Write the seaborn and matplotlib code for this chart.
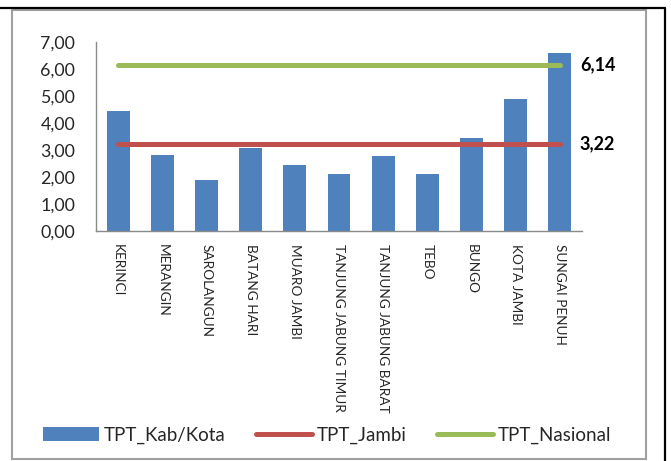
import numpy as np
import pandas as pd
import matplotlib
matplotlib.use("Agg")
import matplotlib.pyplot as plt
from matplotlib.patches import Patch, Rectangle
from matplotlib.lines import Line2D
import seaborn as sns

# ---- data ----
kabupaten = ["KERINCI", "MERANGIN", "SAROLANGUN", "BATANG HARI", "MUARO JAMBI",
             "TANJUNG JABUNG TIMUR", "TANJUNG JABUNG BARAT", "TEBO", "BUNGO",
             "KOTA JAMBI", "SUNGAI PENUH"]
tpt_kab = [4.43, 2.80, 1.89, 3.06, 2.43, 2.11, 2.76, 2.10, 3.43, 4.89, 6.58]
tpt_jambi = 3.22
tpt_nasional = 6.14
y_ticks = [0, 1, 2, 3, 4, 5, 6, 7]

BLUE = "#4F81BD"
RED = "#C0504D"
GREEN = "#9BBB59"

df = pd.DataFrame({
    "Kab": kabupaten,
    "TPT_Kab/Kota": tpt_kab,
    "TPT_Jambi": [tpt_jambi] * len(kabupaten),
    "TPT_Nasional": [tpt_nasional] * len(kabupaten),
})

sns.set_style("white")
plt.rcParams["font.family"] = ["Lato", "DejaVu Sans"]

fig = plt.figure(figsize=(6.71, 4.61), dpi=100)
ax = fig.add_axes([96 / 671, 1 - 231 / 461, (582 - 96) / 671, (231 - 41.7) / 461])

sns.barplot(data=df, x="Kab", y="TPT_Kab/Kota", color=BLUE, width=0.52,
            saturation=1, linewidth=0, ax=ax)
sns.pointplot(data=df, x="Kab", y="TPT_Jambi", color=RED, marker="",
              linewidth=3.6, ax=ax)
sns.pointplot(data=df, x="Kab", y="TPT_Nasional", color=GREEN, marker="",
              linewidth=3.6, ax=ax)
for ln in ax.lines:
    ln.set_solid_capstyle("round")

ax.set_xlim(-0.5, len(kabupaten) - 0.5)
ax.set_ylim(0, 7)
ax.set_yticks(y_ticks)
ax.set_yticklabels([f"{v:.2f}".replace(".", ",") for v in y_ticks], fontsize=12.8)
ax.set_xticks(range(len(kabupaten)))
ax.set_xticklabels(kabupaten, rotation=270, fontsize=9.8, va="top", ha="center")
ax.tick_params(axis="y", length=0, pad=15)
ax.tick_params(axis="x", length=0, pad=9)
ax.set_xlabel("")
ax.set_ylabel("")
for s in ["top", "right"]:
    ax.spines[s].set_visible(False)
for s in ["left", "bottom"]:
    ax.spines[s].set_color("#8a8a8a")
    ax.spines[s].set_linewidth(1.0)

for val in (tpt_nasional, tpt_jambi):
    ax.annotate(f"{val:.2f}".replace(".", ","), xy=(1, val),
                xycoords=("axes fraction", "data"), xytext=(-1.5, 0),
                textcoords="offset points", ha="left", va="center",
                fontsize=13, fontweight="bold", color="black")

handles = [
    Patch(facecolor=BLUE, edgecolor="none"),
    Line2D([0], [0], color=RED, lw=3.6, solid_capstyle="round"),
    Line2D([0], [0], color=GREEN, lw=3.6, solid_capstyle="round"),
]
fig.legend(handles, ["TPT_Kab/Kota", "TPT_Jambi", "TPT_Nasional"], ncol=3,
           loc="center", bbox_to_anchor=(327 / 671, 1 - 435 / 461),
           frameon=False, fontsize=13.5, handlelength=3.0, handleheight=0.8,
           handletextpad=0.25, columnspacing=1.6)

# chart frame and page lines
fig.patches.append(Rectangle((12 / 671, 1 - 459 / 461), (646 - 12) / 671, (459 - 10) / 461,
                             transform=fig.transFigure, fill=False,
                             edgecolor="#a0a0a0", linewidth=1.5))
fig.add_artist(Line2D([0, 665 / 671], [1 - 8.3 / 461] * 2, transform=fig.transFigure,
                      color="black", linewidth=1.6))
fig.add_artist(Line2D([665 / 671] * 2, [0, 1 - 8.3 / 461], transform=fig.transFigure,
                      color="black", linewidth=1.6))

fig.savefig("out.png", dpi=100)
